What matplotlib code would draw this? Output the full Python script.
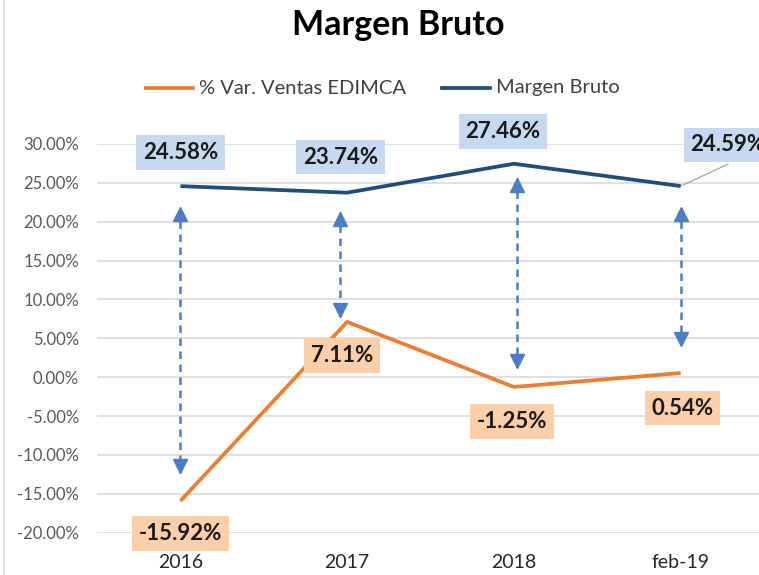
import matplotlib
matplotlib.use("Agg")
import matplotlib.pyplot as plt
import matplotlib.transforms as mtransforms
from matplotlib.lines import Line2D

plt.rcParams['font.family'] = ['Lato', 'DejaVu Sans']

categories = ['2016', '2017', '2018', 'feb-19']
var_ventas = [-15.92, 7.11, -1.25, 0.54]
margen_bruto = [24.58, 23.74, 27.46, 24.59]
y_ticks = [-20, -15, -10, -5, 0, 5, 10, 15, 20, 25, 30]

# arrows: x offset, top tip, bottom tip
arrow_x = [0.0, -0.04, 0.02, 0.0]
arrow_top = [21.8, 21.2, 25.6, 21.8]
arrow_bottom = [-12.3, 7.8, 1.25, 4.1]

# label placement (data coordinates)
mb_label_xy = [(0.0, 28.9), (0.96, 28.3), (1.935, 31.6), (3.284, 29.9)]
vv_label_xy = [(0.0, -20.1), (0.97, 2.8), (1.99, -5.7), (3.01, -4.0)]

ORANGE = '#ED7D31'
NAVY = '#1F4E79'
ARROW = '#4A7EC4'
BOX_BLUE = '#C6D9F0'
BOX_ORANGE = '#FBCFAA'

W, H = 759, 575
fig = plt.figure(figsize=(W / 100, H / 100), dpi=100)
ax = fig.add_axes([97 / W, 1 - 532.7 / H, 667 / W, (532.7 - 144) / H])

x = list(range(len(categories)))
ax.plot(x, var_ventas, color=ORANGE, lw=2.7, solid_capstyle='butt', zorder=3)
ax.plot(x, margen_bruto, color=NAVY, lw=2.7, solid_capstyle='butt', zorder=3)

ax.set_xlim(-0.5, 3.5)
ax.set_ylim(-20, 30)
ax.set_yticks(y_ticks)
ax.set_yticklabels([f'{v:.2f}%' for v in y_ticks])
ax.set_xticks(x)
ax.set_xticklabels(categories)
ax.tick_params(axis='y', length=0, pad=13, labelsize=12, labelcolor='#595959')
ax.tick_params(axis='x', length=0, pad=15, labelsize=14, labelcolor='#262626')
ax.grid(axis='y', color='#D9D9D9', lw=1.2, zorder=0)
for s in ax.spines.values():
    s.set_visible(False)

# double-headed dashed arrows
ms = 9.5
dy = ms / 2 / 72
for i in range(len(categories)):
    xi = x[i] + arrow_x[i]
    top = arrow_top[i]
    bot = arrow_bottom[i]
    ax.plot([xi, xi], [top, bot], color=ARROW, lw=1.8, ls=(0, (3, 2.2)), zorder=2)
    t_down = ax.transData + mtransforms.ScaledTranslation(0, -dy, fig.dpi_scale_trans)
    t_up = ax.transData + mtransforms.ScaledTranslation(0, dy, fig.dpi_scale_trans)
    ax.plot([xi], [top], marker='^', ms=ms, color=ARROW, mec=ARROW, transform=t_down, zorder=4)
    ax.plot([xi], [bot], marker='v', ms=ms, color=ARROW, mec=ARROW, transform=t_up, zorder=4)

# data labels
for i, v in enumerate(margen_bruto):
    lx, ly = mb_label_xy[i]
    ax.text(lx, ly, f'{v:.2f}%', ha='center', va='center', fontsize=16, fontweight='bold',
            color='#1A1A1A', clip_on=False, zorder=5,
            bbox=dict(boxstyle='square,pad=0.3', fc=BOX_BLUE, ec='none'))
for i, v in enumerate(var_ventas):
    lx, ly = vv_label_xy[i]
    ax.text(lx, ly, f'{v:.2f}%', ha='center', va='center', fontsize=16, fontweight='bold',
            color='#1A1A1A', clip_on=False, zorder=5,
            bbox=dict(boxstyle='square,pad=0.3', fc=BOX_ORANGE, ec='none'))

# leader line for the last Margen label
ax.plot([x[3], mb_label_xy[3][0]], [margen_bruto[3], mb_label_xy[3][1] - 2.5],
        color='#A6A6A6', lw=0.9, zorder=2, clip_on=False)

# title
fig.text(398 / W, 1 - 25 / H, 'Margen Bruto', ha='center', va='center',
         fontsize=24.5, fontweight='bold', color='#000000')

# legend (manual)
ly = 1 - 88 / H
fig.add_artist(Line2D([146 / W, 193 / W], [ly, ly], color=ORANGE, lw=2.7))
fig.text(199 / W, ly, '% Var. Ventas EDIMCA', ha='left', va='center', fontsize=14.5, color='#404040')
fig.add_artist(Line2D([442 / W, 490 / W], [ly, ly], color=NAVY, lw=2.7))
fig.text(496 / W, ly, 'Margen Bruto', ha='left', va='center', fontsize=14.5, color='#404040')

# chart border on the left
fig.add_artist(Line2D([3.5 / W, 3.5 / W], [0, 1], color='#D9D9D9', lw=1.2))

fig.savefig('out.png', dpi=100)
